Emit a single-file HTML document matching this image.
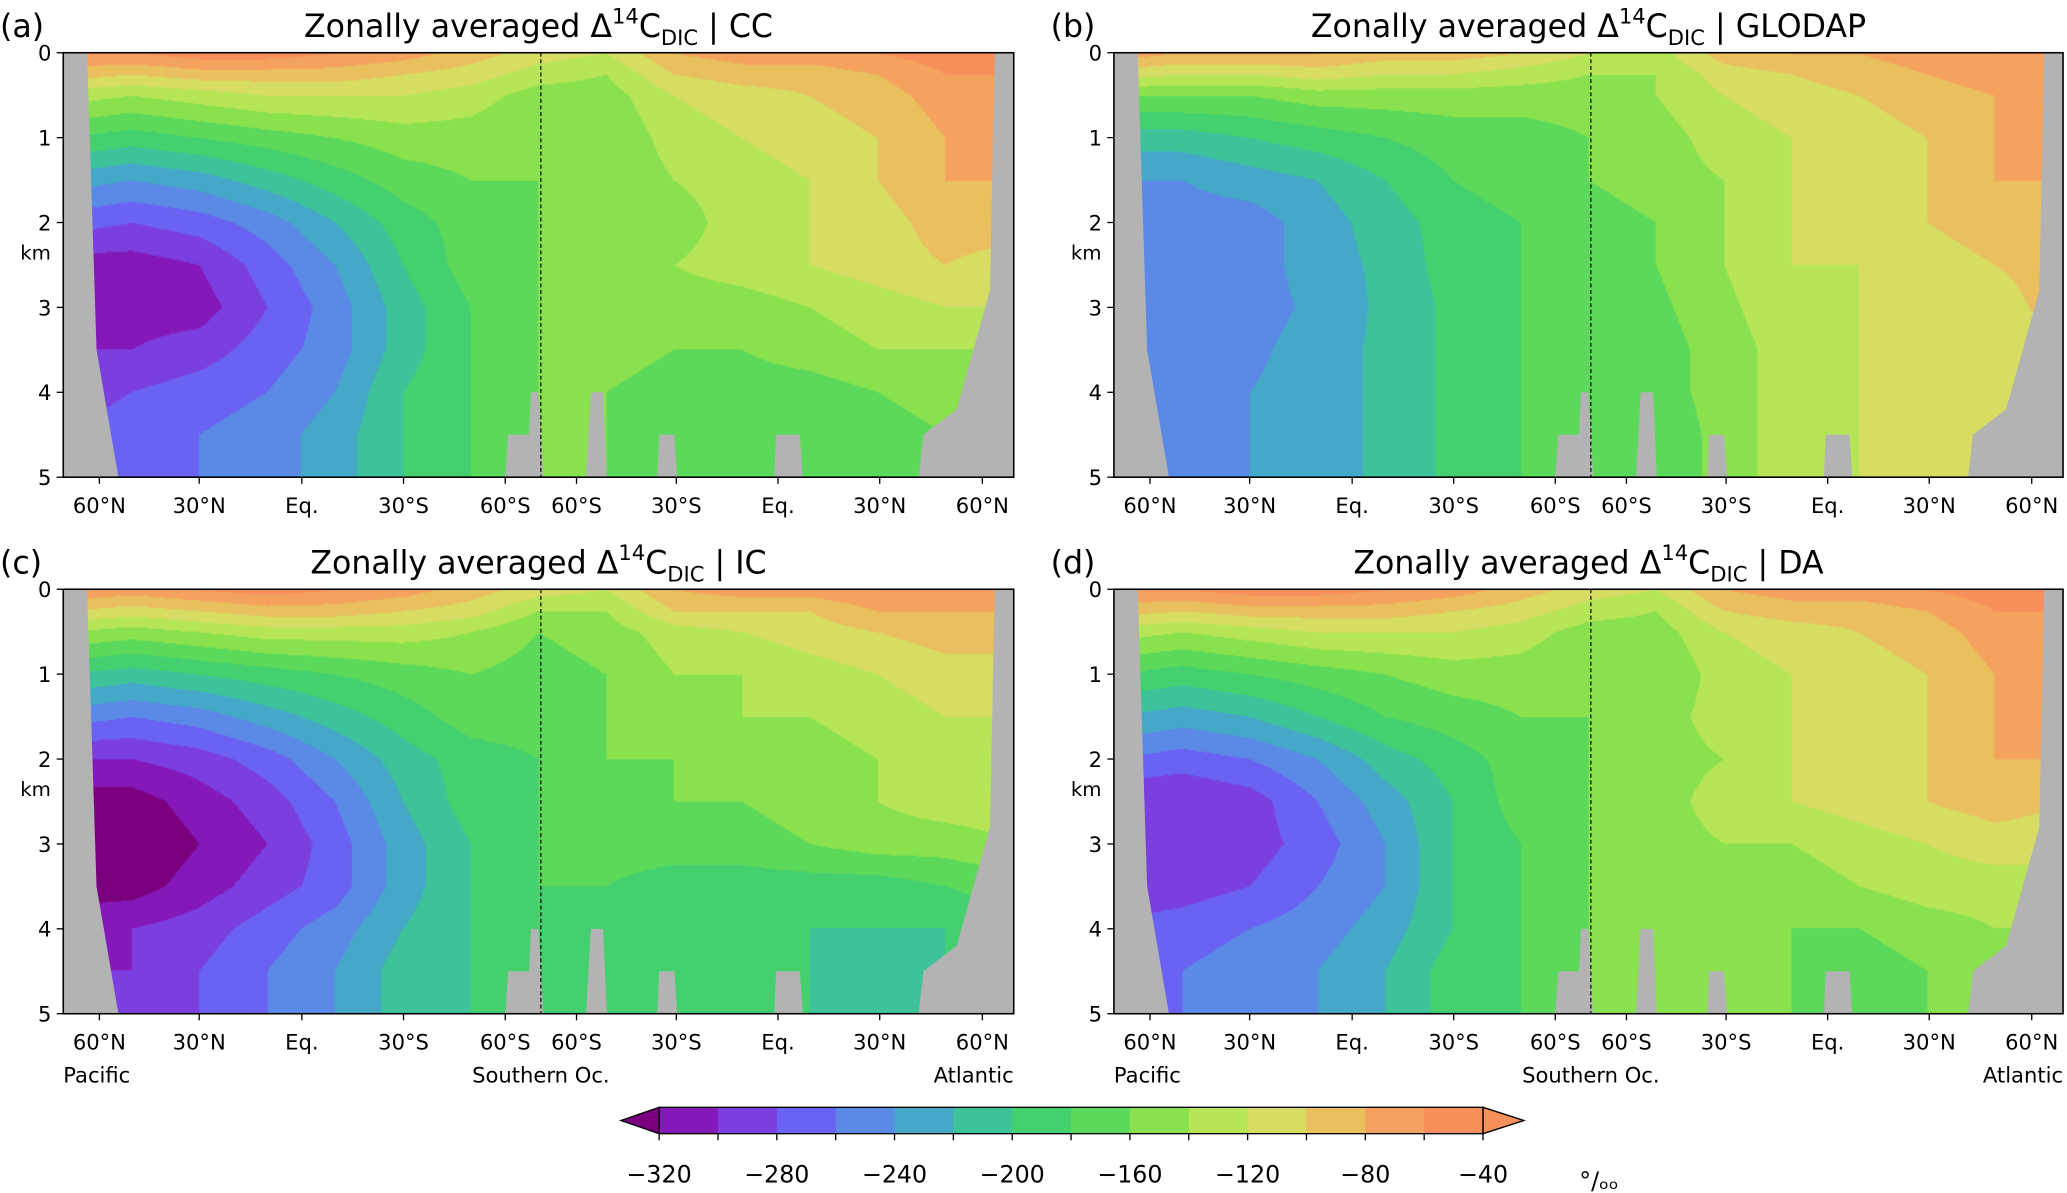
<!DOCTYPE html>
<html><head><meta charset="utf-8">
<style>
html,body{margin:0;padding:0;background:#fff;overflow:hidden}
#root{position:absolute;left:0;top:0;width:1568px;height:905px;transform:scale(1.31824,1.31823);transform-origin:0 0;font-family:"DejaVu Sans","Liberation Sans",sans-serif}
canvas{position:absolute}
svg{position:absolute;left:0;top:0}
</style></head>
<body>
<div id="root">
<canvas id="ca" width="721" height="322" style="left:48px;top:40px"></canvas>
<canvas id="cb" width="720" height="322" style="left:845px;top:40px"></canvas>
<canvas id="cc" width="721" height="322" style="left:48px;top:447px"></canvas>
<canvas id="cd" width="720" height="322" style="left:845px;top:447px"></canvas>
<svg id="svg" width="1568" height="905" viewBox="0 0 1568 905"></svg>
</div>
<script>
// ---- data ----
const depths=[0,0.25,0.5,1,1.5,2,2.5,3,3.5,4,4.5,5];
const levels=[-320,-300,-280,-260,-240,-220,-200,-180,-160,-140,-120,-100,-80,-60,-40];
const colors=["#7a007e","#8418b8","#7a3fde","#6a62f2","#5a8ae6","#46a8c8","#3ec29a","#44d06e","#5cd95a","#8ae14e","#b6e558","#d7dc62","#eabf5e","#f5a25e","#f7905a","#f7905a"];
const xTickLabels=["60°N","30°N","Eq.","30°S","60°S","60°S","30°S","Eq.","30°N","60°N"];
const xTickFrac=[0.038,0.143,0.251,0.358,0.465,0.54,0.645,0.752,0.859,0.967];
const yTicks=[0,1,2,3,4,5];
const fieldCC=[
[-60,-60,-50,-50,-60,-70,-90,-110,-120,-80,-70,-70,-60,-50,-50],
[-90,-100,-90,-90,-90,-100,-110,-130,-140,-100,-90,-90,-80,-60,-60],
[-130,-140,-130,-120,-120,-120,-130,-150,-150,-120,-110,-100,-90,-70,-70],
[-180,-190,-180,-170,-160,-150,-150,-160,-160,-130,-120,-110,-100,-80,-80],
[-230,-240,-230,-210,-190,-170,-160,-160,-160,-140,-130,-120,-100,-80,-80],
[-270,-280,-270,-250,-220,-190,-170,-160,-160,-150,-130,-120,-110,-90,-90],
[-310,-310,-300,-270,-240,-200,-170,-160,-150,-140,-130,-120,-110,-100,-110],
[-310,-310,-310,-280,-250,-210,-180,-160,-150,-150,-150,-140,-130,-120,-120],
[-300,-300,-290,-270,-250,-210,-180,-160,-150,-160,-160,-150,-140,-140,-140],
[-290,-280,-270,-260,-240,-200,-180,-160,-160,-170,-170,-170,-160,-150,-150],
[-280,-270,-260,-250,-230,-200,-180,-160,-160,-170,-170,-170,-170,-160,-160],
[-280,-270,-260,-250,-230,-200,-180,-160,-160,-170,-170,-170,-170,-160,-160]];
const fieldGLODAP=[
[-70,-80,-80,-80,-90,-90,-100,-120,-130,-90,-80,-80,-70,-60,-60],
[-110,-120,-120,-110,-120,-120,-130,-140,-140,-110,-100,-90,-80,-70,-70],
[-160,-160,-160,-150,-150,-150,-150,-150,-140,-120,-110,-100,-90,-80,-80],
[-210,-210,-200,-190,-180,-170,-170,-160,-150,-130,-120,-110,-100,-80,-80],
[-240,-240,-230,-220,-200,-180,-170,-160,-150,-140,-120,-110,-100,-80,-80],
[-250,-250,-250,-230,-210,-190,-180,-170,-160,-140,-120,-120,-100,-90,-80],
[-250,-250,-250,-230,-215,-190,-180,-170,-160,-140,-120,-120,-110,-100,-90],
[-250,-250,-250,-235,-215,-195,-180,-170,-165,-145,-125,-120,-110,-110,-90],
[-250,-250,-245,-230,-215,-195,-180,-175,-170,-150,-130,-120,-120,-115,-110],
[-250,-250,-240,-230,-215,-195,-180,-175,-170,-150,-130,-120,-120,-115,-110],
[-250,-250,-240,-230,-215,-195,-180,-175,-180,-150,-130,-120,-120,-115,-110],
[-250,-250,-240,-230,-215,-195,-180,-175,-180,-150,-130,-120,-120,-115,-110]];
const fieldIC=[
[-60,-70,-60,-50,-60,-70,-90,-110,-120,-80,-70,-70,-60,-60,-60],
[-100,-110,-100,-90,-90,-100,-110,-140,-140,-100,-100,-100,-80,-80,-80],
[-140,-150,-140,-130,-130,-130,-140,-160,-150,-130,-120,-110,-100,-90,-90],
[-200,-210,-200,-190,-180,-170,-160,-170,-160,-140,-140,-130,-120,-110,-110],
[-250,-260,-250,-230,-210,-190,-170,-170,-160,-150,-140,-140,-130,-120,-120],
[-300,-300,-290,-270,-240,-210,-190,-180,-160,-160,-150,-150,-140,-130,-120],
[-330,-330,-310,-290,-260,-220,-190,-180,-170,-160,-160,-150,-140,-130,-130],
[-340,-340,-320,-300,-270,-230,-200,-180,-170,-170,-170,-160,-150,-150,-140],
[-330,-330,-310,-290,-270,-230,-200,-180,-180,-190,-190,-190,-190,-180,-170],
[-310,-300,-290,-270,-250,-220,-200,-180,-190,-190,-190,-200,-200,-200,-180],
[-300,-300,-280,-260,-240,-210,-200,-190,-190,-190,-190,-200,-210,-200,-190],
[-300,-300,-280,-260,-240,-210,-200,-190,-190,-190,-190,-200,-210,-200,-190]];
const fieldDA=[
[-60,-60,-50,-50,-60,-70,-90,-110,-120,-80,-70,-70,-60,-50,-50],
[-90,-100,-90,-90,-90,-100,-110,-130,-140,-100,-90,-90,-80,-60,-60],
[-130,-140,-130,-120,-120,-120,-130,-150,-150,-120,-110,-100,-90,-70,-70],
[-180,-190,-180,-170,-160,-150,-150,-160,-160,-130,-120,-110,-100,-80,-80],
[-220,-230,-220,-200,-180,-170,-160,-160,-150,-130,-120,-110,-100,-80,-80],
[-260,-270,-260,-240,-210,-190,-170,-160,-150,-140,-120,-110,-100,-80,-80],
[-300,-300,-290,-260,-230,-200,-170,-160,-150,-130,-120,-110,-100,-90,-100],
[-300,-300,-290,-270,-240,-200,-180,-160,-150,-140,-140,-130,-120,-110,-110],
[-290,-290,-280,-260,-240,-200,-180,-160,-150,-150,-150,-140,-130,-130,-130],
[-280,-270,-260,-250,-230,-200,-180,-160,-160,-160,-160,-160,-150,-140,-140],
[-270,-260,-250,-240,-220,-190,-180,-160,-160,-160,-160,-170,-160,-150,-150],
[-270,-260,-250,-240,-220,-190,-180,-160,-160,-160,-160,-170,-160,-150,-150]];

function colorFor(v){let i=0;while(i<levels.length&&v>=levels[i])i++;return colors[i];}
function hex(c){return [parseInt(c.slice(1,3),16),parseInt(c.slice(3,5),16),parseInt(c.slice(5,7),16)];}
function sample(f,fx,d){
  const nc=f[0].length-1;let cx=fx*nc;let i=Math.min(nc-1,Math.floor(cx));let tx=cx-i;
  let j=0;while(j<depths.length-2&&d>depths[j+1])j++;
  let ty=(d-depths[j])/(depths[j+1]-depths[j]);ty=Math.max(0,Math.min(1,ty));
  const a=f[j][i]*(1-tx)+f[j][i+1]*tx, b=f[j+1][i]*(1-tx)+f[j+1][i+1]*tx;
  return a*(1-ty)+b*ty;
}
function draw(id,f){
  const cv=document.getElementById(id),ctx=cv.getContext('2d');
  const W=cv.width,H=cv.height,img=ctx.createImageData(W,H);
  const cache={};
  for(let y=0;y<H;y++){const d=5*y/(H-1);for(let x=0;x<W;x++){
    const v=sample(f,x/(W-1),d);const c=colorFor(v);const rgb=cache[c]||(cache[c]=hex(c));
    const k=(y*W+x)*4;img.data[k]=rgb[0];img.data[k+1]=rgb[1];img.data[k+2]=rgb[2];img.data[k+3]=255;}}
  ctx.putImageData(img,0,0);
}
draw('ca',fieldCC);draw('cb',fieldGLODAP);draw('cc',fieldIC);draw('cd',fieldDA);

// ---- overlay ----
const NS="http://www.w3.org/2000/svg";const svg=document.getElementById('svg');
function el(t,a,p){const e=document.createElementNS(NS,t);for(const k in a)e.setAttribute(k,a[k]);(p||svg).appendChild(e);return e;}
function txt(s,x,y,size,anchor,name){const e=el('text',{x:x,y:y,'font-size':size,'text-anchor':anchor||'middle',fill:'#000'});e.textContent=s;

return e;}
const panels=[
 {x:48,y:40,w:721,h:322,lab:"(a)",t:"CC",bottom:false},
 {x:845,y:40,w:720,h:322,lab:"(b)",t:"GLODAP",bottom:false},
 {x:48,y:447,w:721,h:322,lab:"(c)",t:"IC",bottom:true},
 {x:845,y:447,w:720,h:322,lab:"(d)",t:"DA",bottom:true}];
panels.forEach((p,pi)=>{
  const g=el('g',{});
  
  
  const X=f=>p.x+f*p.w, Y=d=>p.y+d/5*p.h;
  const gray='#b3b3b3';
  const polys=[
   [[0,0],[0.025,0],[0.035,3.5],[0.058,5],[0,5]],
   [[1,0],[0.98,0],[0.975,2.8],[0.96,3.4],[0.94,4.2],[0.905,4.5],[0.9,5],[1,5]],
   [[0.465,5],[0.468,4.5],[0.49,4.5],[0.492,4.0],[0.5,4.0],[0.505,5]],
   [[0.55,5],[0.555,4.0],[0.568,4.0],[0.572,5]],
   [[0.625,5],[0.627,4.5],[0.643,4.5],[0.646,5]],
   [[0.748,5],[0.75,4.5],[0.775,4.5],[0.778,5]]];
  polys.forEach((pl,k)=>{const e=el('polygon',{points:pl.map(q=>X(q[0])+','+Y(q[1])).join(' '),fill:gray},g);
    
    });
  const dl=el('line',{x1:X(0.5025),y1:p.y,x2:X(0.5025),y2:p.y+p.h,stroke:'#000','stroke-width':0.9,'stroke-dasharray':'3,2'},g);
  
  
  const fr=el('rect',{x:p.x,y:p.y,width:p.w,height:p.h,fill:'none',stroke:'#000','stroke-width':1.2},g);
  
  
  yTicks.forEach(v=>{el('line',{x1:p.x-5,y1:Y(v),x2:p.x,y2:Y(v),stroke:'#000'},g);
    txt(String(v),p.x-9,Y(v)+6,16,'end','y-tick-label');});
  txt('km',p.x-21,p.y+157,15,'middle','y-axis-title');
  xTickFrac.forEach((f,k)=>{el('line',{x1:X(f),y1:p.y+p.h,x2:X(f),y2:p.y+p.h+5,stroke:'#000'},g);
    txt(xTickLabels[k],X(f),p.y+p.h+27,16,'middle','x-tick-label');});
  if(p.bottom){txt('Pacific',p.x,p.y+p.h+52,16,'start','basin-label-pacific');
    txt('Southern Oc.',X(0.5025),p.y+p.h+52,16,'middle','basin-label-southern');
    txt('Atlantic',p.x+p.w,p.y+p.h+52,16,'end','basin-label-atlantic');}
  txt(p.lab,p.x-48,p.y-12,24,'start','panel-label');
  const t=el('text',{x:p.x+p.w/2,y:p.y-12,'font-size':24,'text-anchor':'middle'});
  
  
  t.innerHTML='Zonally averaged Δ<tspan dy="-10" font-size="16">14</tspan><tspan dy="10">C</tspan><tspan dy="6" font-size="16">DIC</tspan><tspan dy="-6"> | '+p.t+'</tspan>';
});
// colorbar
const cbx=500,cbw=625,cby=840,cbh=20,bw=cbw/14;
const cb=el('g',{});


for(let i=0;i<14;i++){const r=el('rect',{x:cbx+i*bw,y:cby,width:bw+0.5,height:cbh,fill:colors[i+1]},cb);
  
  }
el('polygon',{points:`${cbx},${cby} ${cbx-29},${cby+cbh/2} ${cbx},${cby+cbh}`,fill:colors[0],stroke:'#000'},cb);
el('polygon',{points:`${cbx+cbw},${cby} ${cbx+cbw+31},${cby+cbh/2} ${cbx+cbw},${cby+cbh}`,fill:colors[15],stroke:'#000'},cb);
el('rect',{x:cbx,y:cby,width:cbw,height:cbh,fill:'none',stroke:'#000'},cb);
levels.forEach((v,i)=>{const x=cbx+i*bw;el('line',{x1:x,y1:cby+cbh,x2:x,y2:cby+cbh+5,stroke:'#000'},cb);
  if(i%2==0)txt('\u2212'+Math.abs(v),x,cby+cbh+37,18,'middle','colorbar-tick-label');});
txt('°/\u2092\u2092',1213,cby+cbh+42,18,'middle','colorbar-unit');
</script>
</body></html>
